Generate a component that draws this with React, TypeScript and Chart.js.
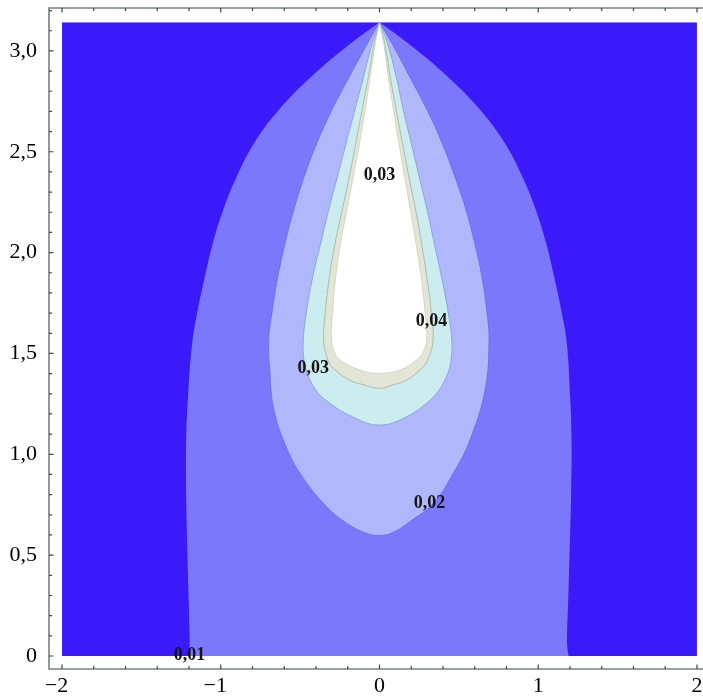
import React, { useEffect, useRef } from 'react';
import { Chart, registerables } from 'chart.js';

Chart.register(...registerables);

// ---- axes ----
const X_RANGE = [-2.082, 2.038];
const Y_RANGE = [-0.0645, 3.2127];
const X_TICKS = [-2, -1, 0, 1, 2];
const X_TICK_LABELS = ['\u22122\u2002', '\u22121\u2002', '0', '1', '2'];
const Y_TICKS = [0, 0.5, 1, 1.5, 2, 2.5, 3];
const Y_TICK_LABELS = ['0', '0,5', '1,0', '1,5', '2,0', '2,5', '3,0'];
const X_MINOR_STEP = 0.2;
const Y_MINOR_STEP = 0.1;

// ---- plotted domain ----
const DOMAIN_X = [-2, 2];
const DOMAIN_Y = [0, Math.PI];

// ---- contour boundaries [x, y]: left side from apex downwards, right side from bottom upwards ----
const C1_LEFT = [[0, 3.142], [-0.18, 3.038], [-0.43, 2.872], [-0.635, 2.707], [-0.79, 2.542], [-0.9, 2.376], [-0.985, 2.211], [-1.05, 2.046], [-1.1, 1.881], [-1.145, 1.715], [-1.18, 1.55], [-1.205, 1.3], [-1.218, 1.071], [-1.218, 0.8], [-1.212, 0.575], [-1.203, 0.3], [-1.196, 0.079], [-1.194, -0.3]];
const C1_RIGHT = [[1.18, -0.3], [1.181, 0.079], [1.19, 0.3], [1.2, 0.575], [1.207, 0.8], [1.21, 1.071], [1.2, 1.3], [1.18, 1.55], [1.145, 1.715], [1.1, 1.881], [1.05, 2.046], [0.985, 2.211], [0.9, 2.376], [0.79, 2.542], [0.635, 2.707], [0.43, 2.872], [0.18, 3.038], [0, 3.142]];

const C2_LEFT = [[0, 3.142], [-0.075, 3.038], [-0.19, 2.872], [-0.3, 2.707], [-0.395, 2.542], [-0.475, 2.376], [-0.54, 2.211], [-0.595, 2.046], [-0.64, 1.881], [-0.675, 1.715], [-0.698, 1.567], [-0.69, 1.402], [-0.669, 1.236], [-0.606, 1.071], [-0.501, 0.906], [-0.333, 0.74], [-0.2, 0.655], [-0.085, 0.609], [0, 0.598]];
const C2_RIGHT = [[0.085, 0.612], [0.195, 0.668], [0.339, 0.757], [0.465, 0.906], [0.57, 1.071], [0.665, 1.319], [0.69, 1.567], [0.675, 1.715], [0.645, 1.881], [0.6, 2.046], [0.545, 2.211], [0.475, 2.376], [0.395, 2.542], [0.3, 2.707], [0.19, 2.872], [0.078, 3.038], [0, 3.142]];

const C3_LEFT = [[0, 3.142], [-0.045, 3.038], [-0.1, 2.872], [-0.155, 2.707], [-0.21, 2.542], [-0.265, 2.376], [-0.32, 2.211], [-0.37, 2.046], [-0.42, 1.881], [-0.458, 1.715], [-0.48, 1.567], [-0.475, 1.46], [-0.455, 1.402], [-0.41, 1.33], [-0.34, 1.269], [-0.17, 1.186], [0, 1.145]];
const C3_RIGHT = [[0.17, 1.186], [0.32, 1.269], [0.385, 1.33], [0.43, 1.402], [0.45, 1.46], [0.455, 1.567], [0.43, 1.715], [0.39, 1.881], [0.345, 2.046], [0.3, 2.211], [0.25, 2.376], [0.2, 2.542], [0.15, 2.707], [0.105, 2.872], [0.05, 3.038], [0, 3.142]];

const C4_LEFT = [[0, 3.142], [-0.033, 3.038], [-0.07, 2.872], [-0.11, 2.707], [-0.15, 2.542], [-0.19, 2.376], [-0.235, 2.211], [-0.28, 2.046], [-0.315, 1.881], [-0.34, 1.715], [-0.352, 1.567], [-0.33, 1.48], [-0.3, 1.434], [-0.19, 1.368], [-0.1, 1.345], [0, 1.327]];
const C4_RIGHT = [[0.09, 1.345], [0.171, 1.368], [0.276, 1.434], [0.31, 1.48], [0.338, 1.567], [0.325, 1.715], [0.298, 1.881], [0.265, 2.046], [0.228, 2.211], [0.185, 2.376], [0.145, 2.542], [0.105, 2.707], [0.068, 2.872], [0.033, 3.038], [0, 3.142]];

const C5_LEFT = [[0, 3.142], [-0.026, 3.038], [-0.058, 2.872], [-0.09, 2.707], [-0.125, 2.542], [-0.165, 2.376], [-0.205, 2.211], [-0.245, 2.046], [-0.275, 1.881], [-0.295, 1.715], [-0.302, 1.567], [-0.28, 1.5], [-0.249, 1.468], [-0.123, 1.418], [0, 1.402]];
const C5_RIGHT = [[0.129, 1.418], [0.234, 1.468], [0.27, 1.5], [0.297, 1.567], [0.285, 1.715], [0.262, 1.881], [0.23, 2.046], [0.195, 2.211], [0.158, 2.376], [0.122, 2.542], [0.088, 2.707], [0.055, 2.872], [0.026, 3.038], [0, 3.142]];

// ---- contour labels ----
const LABEL_TEXTS = ['0,03', '0,04', '0,03', '0,02', '0,01'];
const LABEL_X = [0, 0.328, -0.417, 0.315, -1.197];
const LABEL_Y = [2.381, 1.658, 1.426, 0.756, 0.005];

// ---- colours ----
const COLOR_BG = '#3a1af8';
const REGION_COLORS = ['#7b78fb', '#b0b7fb', '#cdecf0', '#e3e5d6', '#ffffff'];
const LINE_COLORS = ['rgba(0,0,0,0)', 'rgba(95,95,225,0.65)', 'rgba(110,140,200,0.6)', 'rgba(140,160,140,0.6)', 'rgba(190,190,165,0.5)'];
const FRAME_COLOR = '#73827f';
const SERIF = "'Liberation Serif', 'DejaVu Serif', serif";

const toPts = (arr: number[][]) => arr.map(([x, y]) => ({ x, y }));

const regionPlugin = {
  id: 'regionFill',
  beforeDatasetDraw(chart: any, args: any) {
    const ds = chart.data.datasets[args.index];
    if (!ds.regionColor) return;
    const meta = args.meta;
    const line = meta.dataset;
    const { ctx } = chart;
    const xs = chart.scales.x;
    const ys = chart.scales.y;
    const l = xs.getPixelForValue(DOMAIN_X[0]);
    const r = xs.getPixelForValue(DOMAIN_X[1]);
    const t = ys.getPixelForValue(DOMAIN_Y[1]);
    const b = ys.getPixelForValue(DOMAIN_Y[0]);
    ctx.save();
    ctx.beginPath();
    ctx.rect(l, t, r - l, b - t);
    ctx.clip();
    ctx.beginPath();
    let done = false;
    if (line && typeof line.path === 'function') {
      try {
        if (typeof line.updateControlPoints === 'function') line.updateControlPoints(chart.chartArea, 'x');
        line.path(ctx);
        done = true;
      } catch (e) {
        done = false;
      }
    }
    if (!done) {
      ctx.beginPath();
      meta.data.forEach((p: any, i: number) => (i === 0 ? ctx.moveTo(p.x, p.y) : ctx.lineTo(p.x, p.y)));
    }
    ctx.closePath();
    ctx.fillStyle = ds.regionColor;
    ctx.fill();
    ctx.restore();
  },
};

const framePlugin = {
  id: 'frameTicks',
  afterDraw(chart: any) {
    const { ctx, chartArea: a } = chart;
    const xs = chart.scales.x;
    const ys = chart.scales.y;
    ctx.save();
    ctx.strokeStyle = FRAME_COLOR;
    ctx.lineWidth = 1.6;
    ctx.beginPath();
    ctx.moveTo(a.right + 2, a.top);
    ctx.lineTo(a.left, a.top);
    ctx.lineTo(a.left, a.bottom);
    ctx.lineTo(a.right + 2, a.bottom);
    ctx.stroke();
    ctx.strokeStyle = '#3d4a48';
    ctx.lineWidth = 1.2;
    ctx.beginPath();
    const nx = Math.round((DOMAIN_X[1] - DOMAIN_X[0]) / X_MINOR_STEP);
    for (let i = 0; i <= nx; i++) {
      const v = DOMAIN_X[0] + i * X_MINOR_STEP;
      const major = X_TICKS.some((t) => Math.abs(t - v) < 1e-6);
      const len = major ? 4.5 : 3;
      const px = xs.getPixelForValue(v);
      ctx.moveTo(px, a.bottom);
      ctx.lineTo(px, a.bottom - len);
      ctx.moveTo(px, a.top);
      ctx.lineTo(px, a.top + len);
    }
    const ny = Math.floor(Y_RANGE[1] / Y_MINOR_STEP + 1e-6);
    for (let i = 0; i <= ny; i++) {
      const v = i * Y_MINOR_STEP;
      const major = Y_TICKS.some((t) => Math.abs(t - v) < 1e-6);
      const len = major ? 4.5 : 3;
      const py = ys.getPixelForValue(v);
      ctx.moveTo(a.left, py);
      ctx.lineTo(a.left + len, py);
    }
    ctx.stroke();
    ctx.restore();
  },
};

const labelPlugin = {
  id: 'contourLabels',
  afterDatasetsDraw(chart: any) {
    const { ctx } = chart;
    const xs = chart.scales.x;
    const ys = chart.scales.y;
    ctx.save();
    ctx.font = `bold 18px ${SERIF}`;
    ctx.fillStyle = '#141414';
    ctx.textAlign = 'center';
    ctx.textBaseline = 'middle';
    LABEL_TEXTS.forEach((txt, i) => {
      ctx.fillText(txt, xs.getPixelForValue(LABEL_X[i]), ys.getPixelForValue(LABEL_Y[i]));
    });
    ctx.restore();
  },
};

export default function App() {
  const ref = useRef<HTMLCanvasElement | null>(null);

  useEffect(() => {
    if (!ref.current) return;
    const domain = [
      { x: DOMAIN_X[0], y: DOMAIN_Y[0] },
      { x: DOMAIN_X[1], y: DOMAIN_Y[0] },
      { x: DOMAIN_X[1], y: DOMAIN_Y[1] },
      { x: DOMAIN_X[0], y: DOMAIN_Y[1] },
      { x: DOMAIN_X[0], y: DOMAIN_Y[0] },
    ];
    const levels = [
      [...C1_LEFT, ...C1_RIGHT],
      [...C2_LEFT, ...C2_RIGHT],
      [...C3_LEFT, ...C3_RIGHT],
      [...C4_LEFT, ...C4_RIGHT],
      [...C5_LEFT, ...C5_RIGHT],
    ];
    const datasets: any[] = [
      {
        label: 'domain',
        data: domain,
        regionColor: COLOR_BG,
        showLine: true,
        tension: 0,
        borderWidth: 0,
        pointRadius: 0,
        order: 10,
      },
      ...levels.map((pts, i) => ({
        label: 'level' + i,
        data: toPts(pts),
        regionColor: REGION_COLORS[i],
        showLine: true,
        tension: 0.4,
        borderColor: LINE_COLORS[i],
        borderWidth: i === 0 ? 0 : 1,
        pointRadius: 0,
        order: 9 - i,
      })),
    ];

    const chart = new Chart(ref.current, {
      type: 'scatter',
      data: { datasets },
      options: {
        animation: false,
        responsive: false,
        devicePixelRatio: 1,
        events: [],
        layout: { padding: { top: 8, left: 0, right: 0, bottom: 0 } },
        plugins: { legend: { display: false }, tooltip: { enabled: false } },
        scales: {
          x: {
            type: 'linear',
            min: X_RANGE[0],
            max: X_RANGE[1],
            grid: { display: false, drawTicks: false },
            border: { display: false },
            afterBuildTicks: (scale: any) => {
              scale.ticks = X_TICKS.map((v) => ({ value: v }));
            },
            afterFit: (scale: any) => {
              scale.height = 30;
              scale.paddingLeft = 0;
              scale.paddingRight = 0;
            },
            ticks: {
              autoSkip: false,
              maxRotation: 0,
              minRotation: 0,
              padding: 4,
              color: '#000',
              font: { family: SERIF, size: 22 },
              callback: (value: any) => {
                const i = X_TICKS.findIndex((t) => Math.abs(t - Number(value)) < 1e-9);
                return i >= 0 ? X_TICK_LABELS[i] : '';
              },
            },
          },
          y: {
            type: 'linear',
            min: Y_RANGE[0],
            max: Y_RANGE[1],
            grid: { display: false, drawTicks: false },
            border: { display: false },
            afterBuildTicks: (scale: any) => {
              scale.ticks = Y_TICKS.map((v) => ({ value: v }));
            },
            afterFit: (scale: any) => {
              scale.width = 49;
              scale.paddingTop = 0;
              scale.paddingBottom = 0;
            },
            ticks: {
              autoSkip: false,
              padding: 12,
              color: '#000',
              font: { family: SERIF, size: 22 },
              callback: (value: any) => {
                const i = Y_TICKS.findIndex((t) => Math.abs(t - Number(value)) < 1e-9);
                return i >= 0 ? Y_TICK_LABELS[i] : '';
              },
            },
          },
        },
      },
      plugins: [regionPlugin, labelPlugin, framePlugin],
    } as any);

    return () => chart.destroy();
  }, []);

  return (
    <div style={{ position: 'absolute', left: 0, top: 0, width: 703, height: 699, background: '#ffffff' }}>
      <canvas ref={ref} width={703} height={699} style={{ display: 'block' }} />
    </div>
  );
}
